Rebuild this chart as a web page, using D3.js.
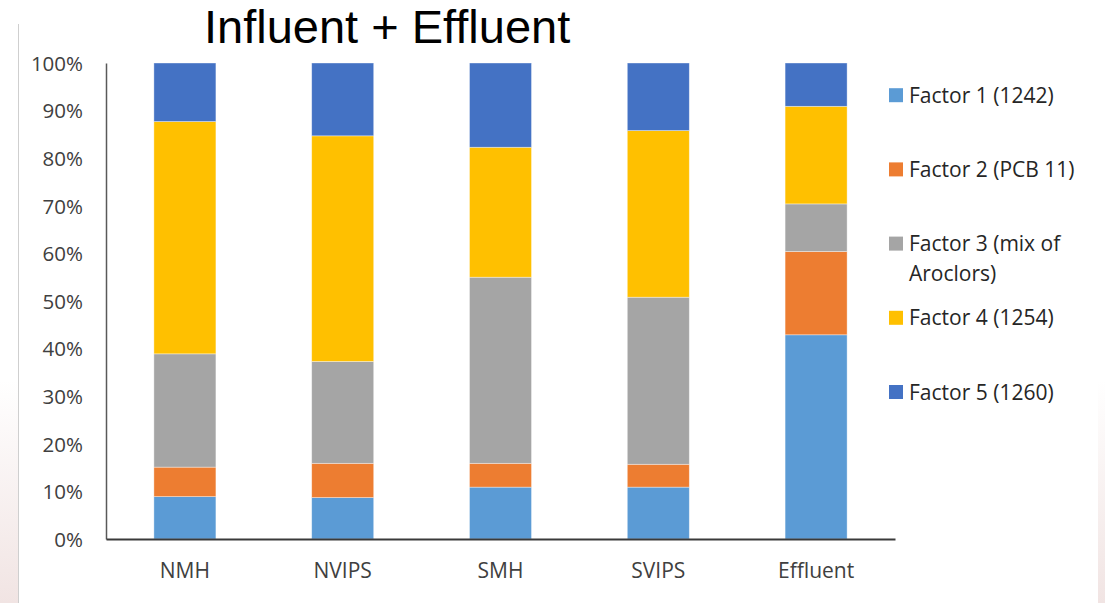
<!DOCTYPE html>
<html>
<head>
<meta charset="utf-8">
<script src="https://cdn.jsdelivr.net/npm/d3@7"></script>
<style>
  html, body { margin: 0; padding: 0; background: #ffffff; }
  svg { display: block; }
</style>
</head>
<body>
<svg id="chart" width="1105" height="603"></svg>
<script>
// Sampling sites along the x axis
const sites = ["NMH", "NVIPS", "SMH", "SVIPS", "Effluent"];

// Share of each PMF factor per site (percent, stacked to 100)
const factor1 = [8.9, 8.7, 10.9, 10.9, 42.9];
const factor2 = [6.2, 7.2, 5.0, 4.8, 17.5];
const factor3 = [23.8, 21.4, 39.1, 35.1, 10.0];
const factor4 = [48.8, 47.4, 27.3, 35.0, 20.5];
const factor5 = [12.3, 15.3, 17.7, 14.2, 9.1];

const seriesNames = [
  "Factor 1 (1242)",
  "Factor 2 (PCB 11)",
  "Factor 3 (mix of Aroclors)",
  "Factor 4 (1254)",
  "Factor 5 (1260)"
];
// Legend text broken into lines
const legendLines = [
  ["Factor 1 (1242)"],
  ["Factor 2 (PCB 11)"],
  ["Factor 3 (mix of", "Aroclors)"],
  ["Factor 4 (1254)"],
  ["Factor 5 (1260)"]
];
const seriesColors = ["#5B9BD5", "#ED7D31", "#A5A5A5", "#FFC000", "#4472C4"];
const yTicks = [0, 10, 20, 30, 40, 50, 60, 70, 80, 90, 100];

const titleText = "Influent + Effluent";

// Build table rows for d3.stack
const keys = ["f1", "f2", "f3", "f4", "f5"];
const seriesValues = [factor1, factor2, factor3, factor4, factor5];
const rows = sites.map((s, i) => {
  const r = { site: s };
  keys.forEach((k, j) => { r[k] = seriesValues[j][i]; });
  return r;
});
const stacked = d3.stack().keys(keys)(rows);

const svg = d3.select("#chart");
const W = 1105, H = 603;
const fontUI = "'Open Sans', 'Noto Sans', sans-serif";

// Slide background decoration: soft pink fades at the edges
const defs = svg.append("defs");
const grad = defs.append("linearGradient")
  .attr("id", "edgeFade").attr("x1", 0).attr("y1", 0).attr("x2", 0).attr("y2", 1);
grad.append("stop").attr("offset", "0%").attr("stop-color", "#ffffff");
grad.append("stop").attr("offset", "100%").attr("stop-color", "#f1e4e3");

svg.append("rect").attr("x", 0).attr("y", 380).attr("width", 18).attr("height", H - 380)
  .attr("fill", "url(#edgeFade)");
svg.append("rect").attr("x", 1098).attr("y", 380).attr("width", 7).attr("height", H - 380)
  .attr("fill", "url(#edgeFade)");

// Thin frame line at the left of the chart object
svg.append("line")
  .attr("x1", 18.5).attr("x2", 18.5).attr("y1", 24).attr("y2", H)
  .attr("stroke", "#cfcfcf").attr("stroke-width", 1);

// Scales
const plot = { left: 106, right: 895, top: 63, bottom: 539 };
const x = d3.scaleBand().domain(sites).range([plot.left, plot.right])
  .paddingInner(0.607).paddingOuter(0.3035);
const y = d3.scaleLinear().domain([0, 100]).range([plot.bottom, plot.top]);

// Stacked bars
const layers = svg.append("g").selectAll("g")
  .data(stacked).join("g")
  .attr("fill", (d, i) => seriesColors[i]);

layers.selectAll("rect")
  .data(d => d).join("rect")
  .attr("x", d => x(d.data.site))
  .attr("width", x.bandwidth())
  .attr("y", d => y(d[1]))
  .attr("height", d => y(d[0]) - y(d[1]))
  .attr("stroke", "#ffffff")
  .attr("stroke-opacity", 0.5)
  .attr("stroke-width", 0.75);

// Y axis
const yAxis = d3.axisLeft(y).tickValues(yTicks).tickFormat(d => d + "%").tickSize(0).tickPadding(23);
const yg = svg.append("g").attr("transform", `translate(${plot.left},0)`).call(yAxis);
yg.select(".domain").attr("stroke", "#595959").attr("stroke-width", 1.5);
yg.selectAll("text")
  .attr("font-family", fontUI).attr("font-size", 20.5).attr("fill", "#404040")
  .attr("dy", "0.36em");

// X axis
const xAxis = d3.axisBottom(x).tickSize(0).tickPadding(24);
const xg = svg.append("g").attr("transform", `translate(0,${plot.bottom})`).call(xAxis);
xg.select(".domain").attr("stroke", "#3a3a3a").attr("stroke-width", 2);
xg.selectAll("text")
  .attr("font-family", fontUI).attr("font-size", 21).attr("fill", "#404040");

// Title
svg.append("text")
  .attr("x", 204).attr("y", 43)
  .attr("font-family", "'Liberation Sans', Arial, sans-serif")
  .attr("font-size", 47).attr("fill", "#000000")
  .text(titleText);

// Legend
const legend = svg.append("g");
const legendBase = 102.7, legendStep = 74.2;
legendLines.forEach((lines, i) => {
  const by = legendBase + i * legendStep;
  legend.append("rect")
    .attr("x", 889).attr("y", by - 14.5).attr("width", 14).attr("height", 14)
    .attr("fill", seriesColors[i]);
  const t = legend.append("text")
    .attr("x", 909).attr("y", by)
    .attr("font-family", fontUI).attr("font-size", 21).attr("fill", "#262626");
  lines.forEach((ln, k) => {
    t.append("tspan").attr("x", 909).attr("y", by + k * 30).text(ln);
  });
});
</script>
</body>
</html>
